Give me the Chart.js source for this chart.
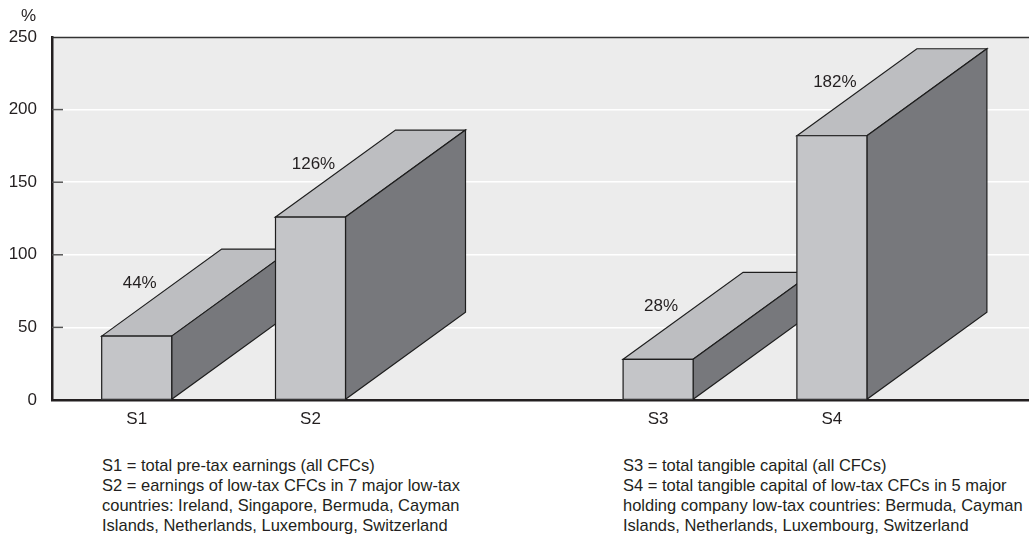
<!DOCTYPE html>
<html>
<head>
<meta charset="utf-8">
<script src="https://cdn.jsdelivr.net/npm/chart.js@4.4.1/dist/chart.umd.min.js"></script>
<style>
  html, body { margin: 0; padding: 0; background: #ffffff; }
  body { width: 1029px; height: 540px; position: relative; overflow: hidden;
         font-family: "Liberation Sans", Arial, sans-serif; color: #231f20; }
  #wrap { position: absolute; left: 0; top: 0; width: 1029px; height: 440px; }
  .unit { position: absolute; left: 21px; top: 6px; font-size: 17px; }
  .note { position: absolute; top: 456px; font-size: 17px; line-height: 20px; white-space: nowrap;
          transform: scaleX(0.97); transform-origin: 0 0; }
</style>
</head>
<body>
<div id="wrap"><canvas id="c"></canvas></div>
<div class="unit">%</div>
<div class="note" id="noteA" style="left:102px"></div>
<div class="note" id="noteB" style="left:623px"></div>
<script>
// Series: the empty category leaves a gap between the two pairs
const categories = ['S1', 'S2', '', 'S3', 'S4'];
const values = [44, 126, null, 28, 182];
const yTicks = [0, 50, 100, 150, 200, 250];
const notesLeft = [
  'S1 = total pre-tax earnings (all CFCs)',
  'S2 = earnings of low-tax CFCs in 7 major low-tax',
  'countries: Ireland, Singapore, Bermuda, Cayman',
  'Islands, Netherlands, Luxembourg, Switzerland'
];
const notesRight = [
  'S3 = total tangible capital (all CFCs)',
  'S4 = total tangible capital of low-tax CFCs in 5 major',
  'holding company low-tax countries: Bermuda, Cayman',
  'Islands, Netherlands, Luxembourg, Switzerland'
];

document.getElementById('noteA').innerHTML = notesLeft.join('<br>');
document.getElementById('noteB').innerHTML = notesRight.join('<br>');

const FONT = '"Liberation Sans", Arial, sans-serif';
const INK = '#231f20';
const DEPTH_X = 120, DEPTH_Y = -87;

// Plot background, top frame line and inward y tick marks
const frame = {
  id: 'frame',
  beforeDraw(chart) {
    const { ctx, chartArea: a } = chart;
    ctx.save();
    ctx.fillStyle = '#ececec';
    ctx.fillRect(a.left, a.top, a.right - a.left, a.bottom - a.top);
    ctx.restore();
  },
  beforeDatasetsDraw(chart) {
    const { ctx, chartArea: a, scales: { y } } = chart;
    ctx.save();
    ctx.strokeStyle = '#333';
    ctx.lineWidth = 1.5;
    ctx.beginPath();
    ctx.moveTo(a.left, a.top + 0.5);
    ctx.lineTo(a.right, a.top + 0.5);
    ctx.stroke();
    ctx.strokeStyle = '#555';
    ctx.lineWidth = 1.5;
    y.ticks.forEach(t => {
      if (t.value <= y.min || t.value >= y.max) return;
      const py = y.getPixelForValue(t.value);
      ctx.beginPath();
      ctx.moveTo(a.left, py);
      ctx.lineTo(a.left + 11, py);
      ctx.stroke();
    });
    ctx.restore();
  }
};

// Extruded boxes: top and side faces plus the front face, drawn bar by bar
const boxes = {
  id: 'boxes',
  afterDatasetsDraw(chart) {
    const { ctx } = chart;
    const meta = chart.getDatasetMeta(0);
    ctx.save();
    ctx.lineJoin = 'miter';
    ctx.strokeStyle = '#1e1e1e';
    ctx.lineWidth = 1.2;
    meta.data.forEach((el, i) => {
      const raw = meta._parsed[i];
      if (!raw || raw.y == null) return;
      const { x, y, base, width } = el.getProps(['x', 'y', 'base', 'width'], true);
      const L = x - width / 2, R = x + width / 2;
      const poly = (pts, fill) => {
        ctx.beginPath();
        ctx.moveTo(pts[0][0], pts[0][1]);
        for (let k = 1; k < pts.length; k++) ctx.lineTo(pts[k][0], pts[k][1]);
        ctx.closePath();
        ctx.fillStyle = fill;
        ctx.fill();
        ctx.stroke();
      };
      poly([[L, y], [L + DEPTH_X, y + DEPTH_Y], [R + DEPTH_X, y + DEPTH_Y], [R, y]], '#bdbec1');
      poly([[R, y], [R + DEPTH_X, y + DEPTH_Y], [R + DEPTH_X, base + DEPTH_Y], [R, base]], '#77787c');
      poly([[L, y], [R, y], [R, base], [L, base]], '#c4c5c8');
      ctx.fillStyle = INK;
      ctx.font = '17px ' + FONT;
      ctx.textAlign = 'center';
      ctx.textBaseline = 'middle';
      ctx.fillText(raw.y + '%', x + 3, y - 53);
    });
    ctx.restore();
  }
};

const points = [];
values.forEach((v, i) => { if (v != null) points.push({ x: i, y: v }); });

new Chart(document.getElementById('c'), {
  type: 'bar',
  data: {
    datasets: [{
      data: points,
      backgroundColor: '#c4c5c8',
      borderWidth: 0,
      barThickness: 70
    }]
  },
  options: {
    responsive: true,
    maintainAspectRatio: false,
    animation: false,
    events: [],
    layout: { padding: { top: 37, right: 0, bottom: 0, left: 0 } },
    plugins: { legend: { display: false }, tooltip: { enabled: false } },
    scales: {
      x: {
        type: 'linear',
        offset: false,
        min: -0.4873,
        max: 5.134,
        grid: { display: false, drawTicks: false, offset: false },
        border: { display: true, color: '#231f20', width: 2.5 },
        afterBuildTicks(scale) {
          scale.ticks = categories.map((c, i) => ({ value: i })).filter(t => categories[t.value] !== '');
        },
        afterFit(scale) { scale.height = 40; },
        ticks: {
          padding: 9,
          autoSkip: false,
          maxRotation: 0,
          color: INK,
          font: { family: FONT, size: 17 },
          callback: v => categories[v]
        }
      },
      y: {
        min: 0,
        max: 250,
        afterBuildTicks(scale) { scale.ticks = yTicks.map(v => ({ value: v })); },
        afterFit(scale) { scale.width = 52; },
        grid: { color: '#ffffff', lineWidth: 1.5, drawTicks: false },
        border: { display: true, color: '#231f20', width: 2.5 },
        ticks: { padding: 15, color: INK, font: { family: FONT, size: 17 } }
      }
    }
  },
  plugins: [frame, boxes]
});
</script>
</body>
</html>
